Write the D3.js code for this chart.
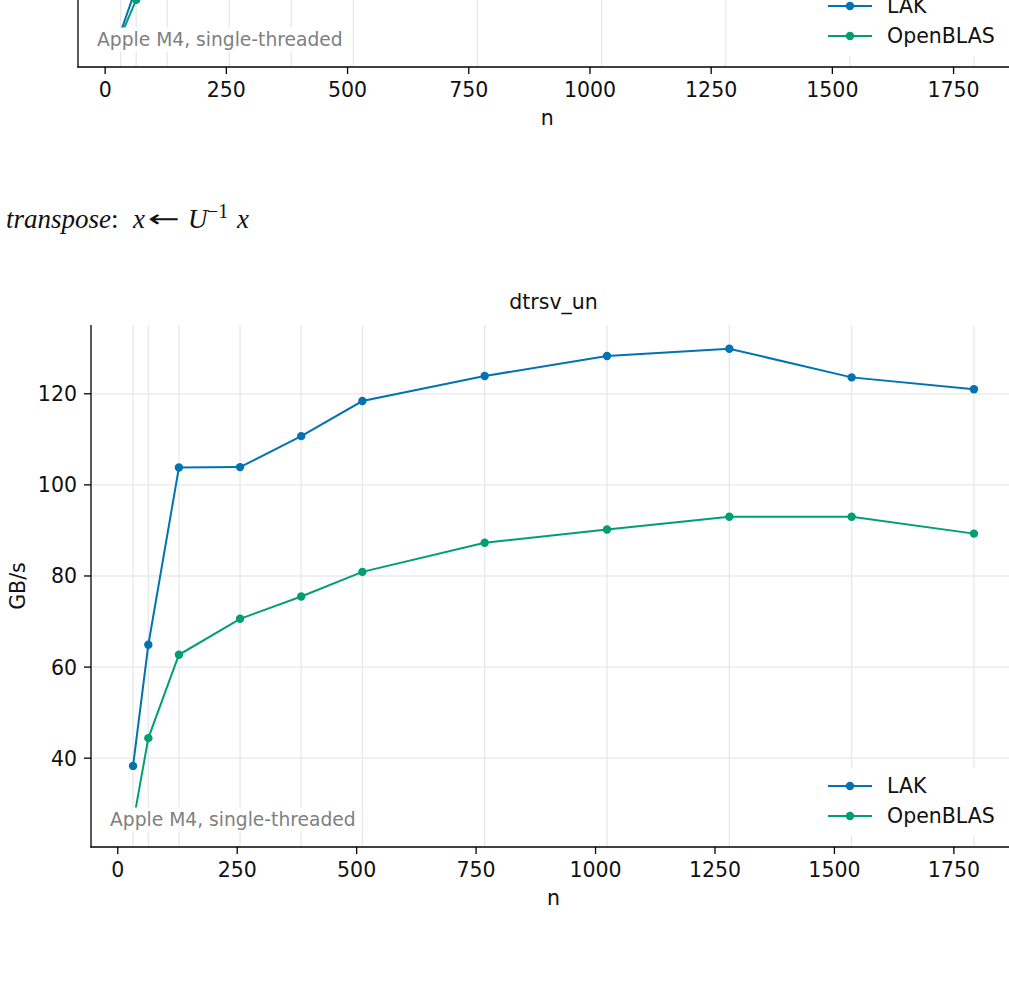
<!DOCTYPE html>
<html>
<head>
<meta charset="utf-8">
<script src="https://cdn.jsdelivr.net/npm/d3@7"></script>
<style>
  html, body { margin: 0; padding: 0; background: #fff; overflow: hidden; }
  svg { display: block; font-family: 'DejaVu Sans', sans-serif; }
</style>
</head>
<body>
<div id="chart"></div>
<script>
// problem sizes (same for every panel)
var sizes = [32, 64, 128, 256, 384, 512, 768, 1024, 1280, 1536, 1792];
var seriesNames = ['LAK', 'OpenBLAS'];
var seriesColors = ['#0173b2', '#029e73'];

// previous panel, only its bottom strip is on screen
var prevLak      = [27.7, 37.5, 90.0, 98.0, 105.0, 112.0, 118.0, 122.0, 124.0, 120.0, 118.0];
var prevOpenblas = [26.8, 34.8, 55.0, 63.0, 69.0, 74.0, 80.0, 84.0, 86.0, 86.0, 83.0];
var prevYDomain = [20, 135];

// dtrsv_un, GB/s
var unLak      = [38.3, 64.9, 103.8, 103.9, 110.7, 118.4, 123.9, 128.3, 129.9, 123.6, 121.0];
var unOpenblas = [25.7, 44.4, 62.7, 70.6, 75.5, 80.9, 87.3, 90.2, 93.0, 93.0, 89.3];
var unYDomain = [20.5, 135.1];

var xTicks = [0, 250, 500, 750, 1000, 1250, 1500, 1750];
var yTicks = [40, 60, 80, 100, 120];
var note = 'Apple M4, single-threaded';

var width = 1009, height = 983;
var fontSize = 20.5;

var svg = d3.select('#chart').append('svg')
    .attr('width', width).attr('height', height);

function drawPanel(id, p) {
    var g = svg.append('g').attr('id', id);

    // 5% margin around the sizes, like matplotlib autoscale
    var pad = 0.05 * (d3.max(sizes) - d3.min(sizes));
    var x = d3.scaleLinear()
        .domain([d3.min(sizes) - pad, d3.max(sizes) + pad])
        .range([p.left, p.right]);
    var y = d3.scaleLinear().domain(p.yDomain).range([p.bottom, p.top]);

    g.append('clipPath').attr('id', id + '-clip')
     .append('rect')
     .attr('x', p.left).attr('y', p.top)
     .attr('width', p.right - p.left).attr('height', p.bottom - p.top);

    // grid: one vertical line per size, horizontal at y ticks
    g.append('g').selectAll('line').data(sizes).enter()
     .append('line')
     .attr('x1', function(d) { return x(d); }).attr('x2', function(d) { return x(d); })
     .attr('y1', p.top).attr('y2', p.bottom)
     .attr('stroke', '#e8e8e8').attr('stroke-width', 1.3);
    g.append('g').selectAll('line').data(yTicks).enter()
     .append('line')
     .attr('x1', p.left).attr('x2', p.right)
     .attr('y1', function(d) { return y(d); }).attr('y2', function(d) { return y(d); })
     .attr('stroke', '#e8e8e8').attr('stroke-width', 1.3);

    var line = d3.line()
        .x(function(d, i) { return x(sizes[i]); })
        .y(function(d) { return y(d); });

    var plot = g.append('g').attr('clip-path', 'url(#' + id + '-clip)');
    [p.lak, p.openblas].forEach(function(vals, s) {
        plot.append('path')
            .attr('d', line(vals))
            .attr('fill', 'none')
            .attr('stroke', seriesColors[s]).attr('stroke-width', 2);
        plot.append('g').selectAll('circle').data(vals).enter()
            .append('circle')
            .attr('cx', function(d, i) { return x(sizes[i]); })
            .attr('cy', function(d) { return y(d); })
            .attr('r', 4.2)
            .attr('fill', seriesColors[s]);
    });

    // annotation with white box
    var noteG = g.append('g');
    var noteBox = noteG.append('rect').attr('fill', '#fff');
    var noteText = noteG.append('text')
        .attr('x', p.left + 19).attr('y', p.bottom - 21.5)
        .attr('font-size', 18.7).attr('fill', '#808080')
        .text(note);
    var nw = noteText.node().getComputedTextLength();
    noteBox.attr('x', p.left + 15).attr('y', p.bottom - 39.5)
        .attr('width', nw + 8).attr('height', 24);

    // legend, lower right
    var leg = g.append('g');
    leg.append('rect')
       .attr('x', 818).attr('y', p.bottom - 79)
       .attr('width', 188).attr('height', 68)
       .attr('fill', '#fff');
    seriesNames.forEach(function(name, s) {
        var ry = p.bottom - 61 + s * 30;
        leg.append('line')
           .attr('x1', 828).attr('x2', 872).attr('y1', ry).attr('y2', ry)
           .attr('stroke', seriesColors[s]).attr('stroke-width', 2);
        leg.append('circle').attr('cx', 850).attr('cy', ry).attr('r', 4.2)
           .attr('fill', seriesColors[s]);
        leg.append('text').attr('x', 887).attr('y', ry + 7.3)
           .attr('font-size', fontSize).attr('fill', '#111')
           .text(name);
    });

    // spines, left and bottom only
    g.append('line')
     .attr('x1', p.left).attr('x2', p.left).attr('y1', p.top).attr('y2', p.bottom + 0.6)
     .attr('stroke', '#000').attr('stroke-width', 1.3);
    g.append('line')
     .attr('x1', p.left - 0.6).attr('x2', p.right).attr('y1', p.bottom).attr('y2', p.bottom)
     .attr('stroke', '#000').attr('stroke-width', 1.3);

    // x ticks
    var xt = g.append('g').selectAll('g').data(xTicks).enter().append('g');
    xt.append('line')
      .attr('x1', function(d) { return x(d); }).attr('x2', function(d) { return x(d); })
      .attr('y1', p.bottom).attr('y2', p.bottom + 7)
      .attr('stroke', '#000').attr('stroke-width', 1.3);
    xt.append('text')
      .attr('x', function(d) { return x(d); }).attr('y', p.bottom + 30.3)
      .attr('text-anchor', 'middle').attr('font-size', fontSize).attr('fill', '#111')
      .text(function(d) { return d; });

    // y ticks (only the ones that land inside the page)
    var shownY = yTicks.filter(function(d) { return y(d) > 10; });
    var yt = g.append('g').selectAll('g').data(shownY).enter().append('g');
    yt.append('line')
      .attr('x1', p.left - 7).attr('x2', p.left)
      .attr('y1', function(d) { return y(d); }).attr('y2', function(d) { return y(d); })
      .attr('stroke', '#000').attr('stroke-width', 1.3);
    yt.append('text')
      .attr('x', p.left - 14).attr('y', function(d) { return y(d) + 7.5; })
      .attr('text-anchor', 'end').attr('font-size', fontSize).attr('fill', '#111')
      .text(function(d) { return d; });

    g.append('text')
     .attr('x', (p.left + p.right) / 2).attr('y', p.bottom + 58)
     .attr('text-anchor', 'middle').attr('font-size', fontSize).attr('fill', '#111')
     .text('n');

    if (p.title) {
        g.append('text')
         .attr('x', (p.left + p.right) / 2).attr('y', p.top - 16.5)
         .attr('text-anchor', 'middle').attr('font-size', fontSize).attr('fill', '#111')
         .text(p.title);
        g.append('text')
         .attr('transform', 'translate(25,' + ((p.top + p.bottom) / 2) + ') rotate(-90)')
         .attr('text-anchor', 'middle').attr('font-size', fontSize).attr('fill', '#111')
         .text('GB/s');
    }
}

drawPanel('prev', {
    left: 78, right: 1016.6, top: -455, bottom: 67,
    lak: prevLak, openblas: prevOpenblas, yDomain: prevYDomain
});

// heading between the panels
var head = svg.append('text')
    .attr('y', 228)
    .attr('font-family', "'Liberation Serif', 'DejaVu Serif', serif")
    .attr('font-size', 27).attr('fill', '#111');
head.append('tspan').attr('x', 6).attr('font-style', 'italic').text('transpose');
head.append('tspan').text(':');
head.append('tspan').attr('x', 133).attr('font-style', 'italic').text('x');
head.append('tspan').attr('x', 148)
    .attr('font-family', "'DejaVu Sans', sans-serif").attr('font-size', 24)
    .attr('dy', -1)
    .attr('textLength', 32).attr('lengthAdjust', 'spacingAndGlyphs')
    .text('\u2190');
head.append('tspan').attr('x', 188).attr('dy', 1).attr('font-style', 'italic').text('U');
head.append('tspan').attr('x', 207).attr('dy', -10).attr('font-size', 20).text('\u22121');
head.append('tspan').attr('x', 237).attr('dy', 10).attr('font-style', 'italic').text('x');

drawPanel('un', {
    left: 91, right: 1016, top: 325, bottom: 847,
    lak: unLak, openblas: unOpenblas, yDomain: unYDomain,
    title: 'dtrsv_un'
});
</script>
</body>
</html>
